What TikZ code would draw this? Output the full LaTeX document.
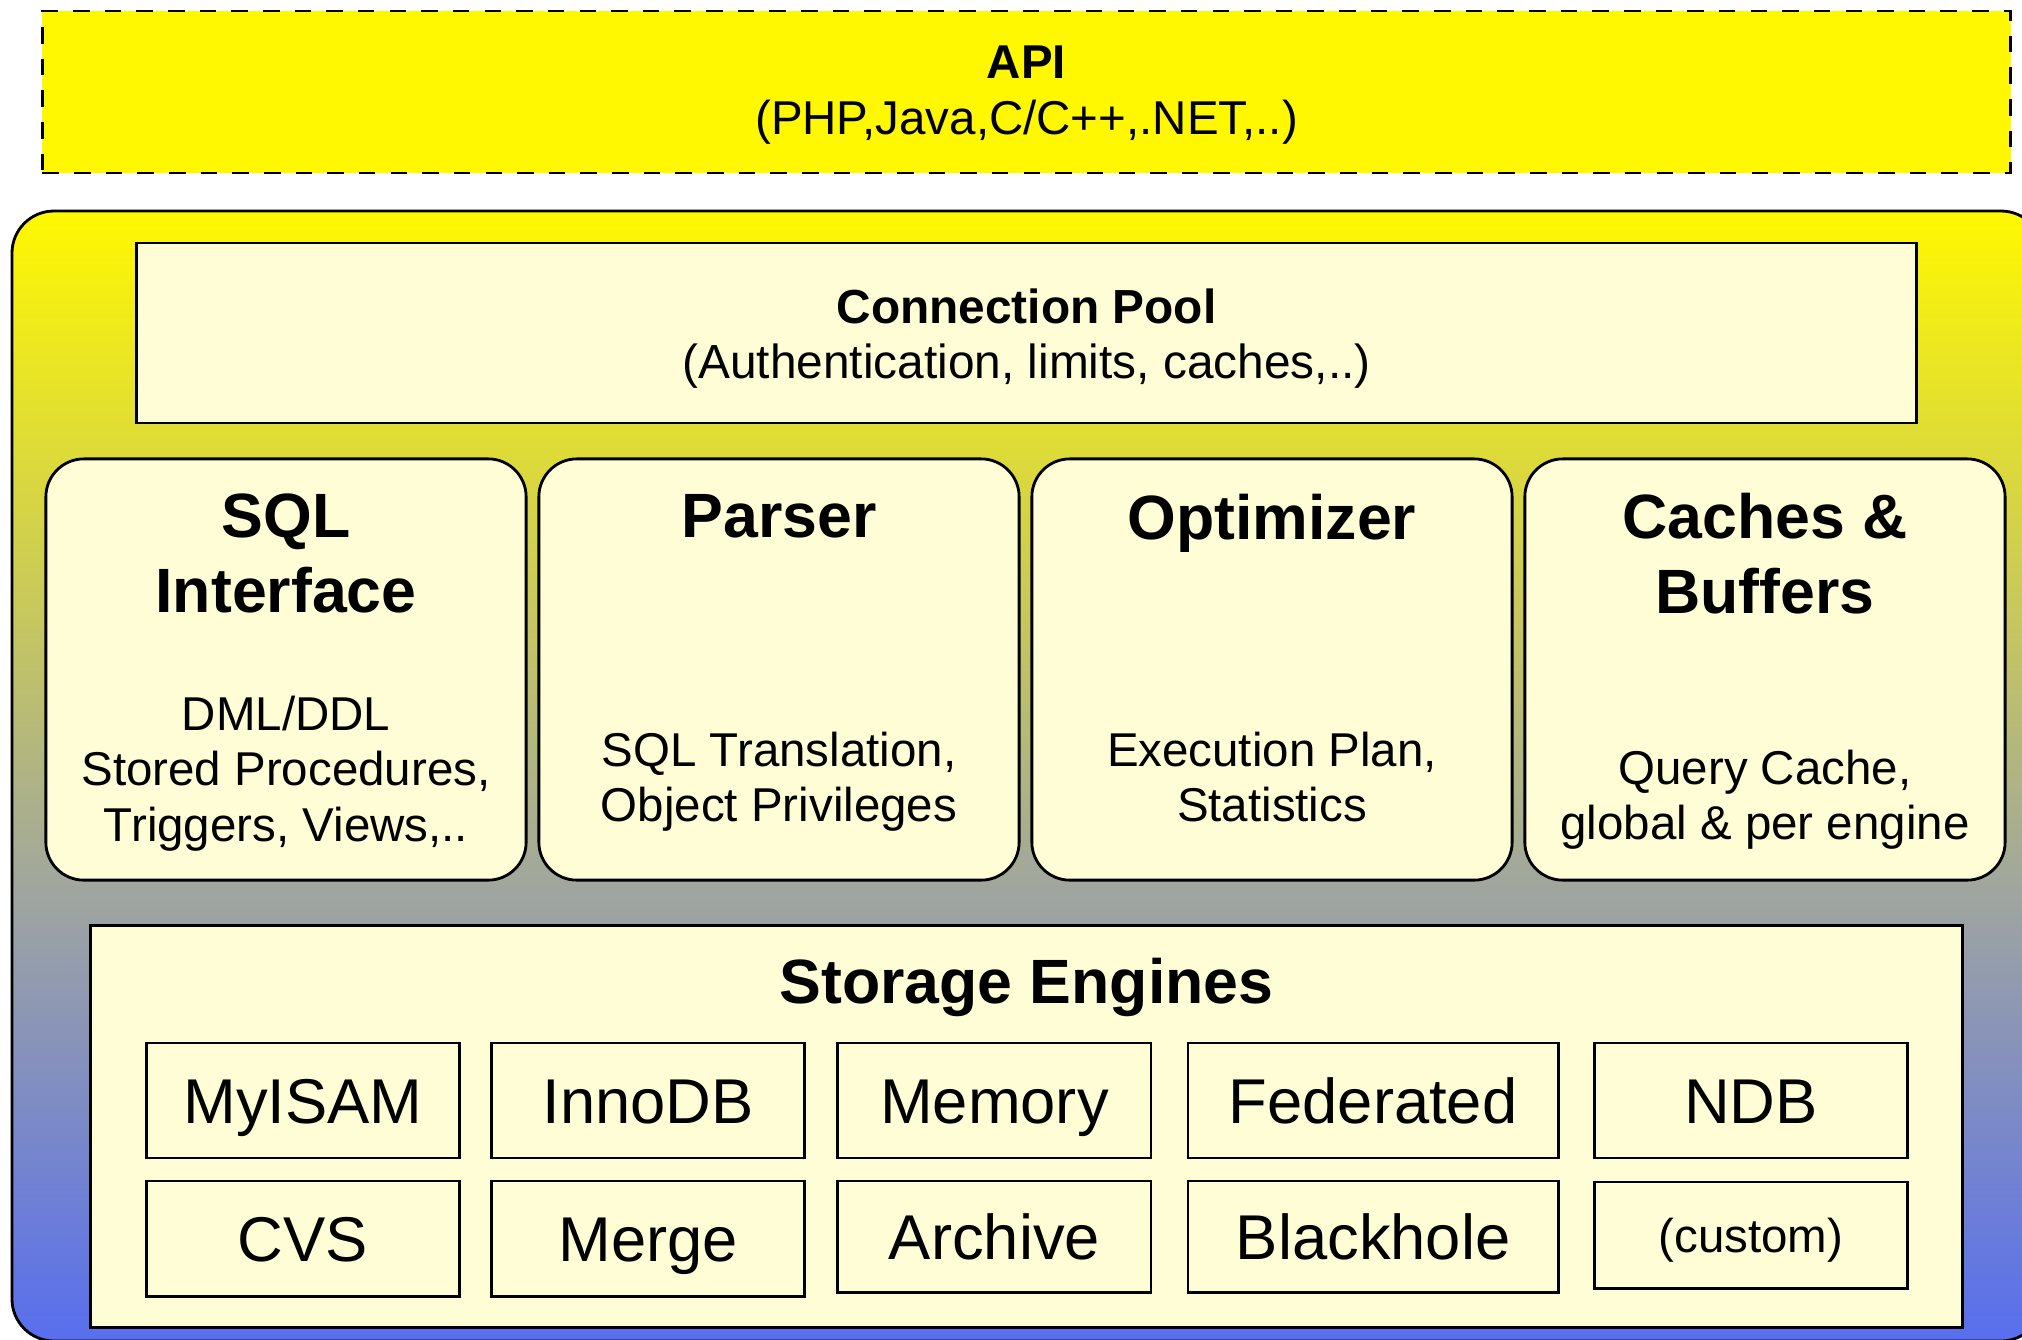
\documentclass[tikz,border=0pt]{standalone}
\usepackage{fontspec}
\setmainfont{Liberation Sans}
\usetikzlibrary{positioning}

\definecolor{paleyellow}{RGB}{255,253,214}
\definecolor{apiyellow}{RGB}{255,248,0}
\definecolor{frameyellow}{RGB}{255,248,0}
\definecolor{framegray}{RGB}{160,166,158}
\definecolor{frameblue}{RGB}{88,110,238}
\pgfdeclareverticalshading{serverfade}{100bp}{color(0bp)=(frameblue); color(25bp)=(frameblue); color(45bp)=(framegray); color(75bp)=(frameyellow); color(100bp)=(frameyellow)}

\begin{document}
\begin{tikzpicture}[x=0.01cm, y=-0.01cm,
  layer/.style={draw, line width=0.8pt, fill=paleyellow, align=center, inner sep=0pt, outer sep=0pt},
  module/.style={layer, rounded corners=0.38cm, minimum width=4.8cm, minimum height=4.21cm},
  engine/.style={layer, minimum width=3.13cm, minimum height=1.15cm, text height=12.9pt, text depth=0pt, font=\fontsize{18}{21}\selectfont},
  heading/.style={align=center, inner sep=0pt, font=\bfseries\fontsize{17.8}{21.3}\selectfont},
  detail/.style={align=center, inner sep=0pt, font=\fontsize{13.5}{15.8}\selectfont}]
\useasboundingbox (0,0) rectangle (2022,1339);
\clip (0,0) rectangle (2022,1339);

% server frame
\shadedraw[shading=serverfade, line width=0.8pt, rounded corners=0.42cm] (12,211) rectangle (2043,1341);

\node[layer, dash pattern=on 4.7pt off 4.3pt, fill=apiyellow, minimum width=19.67cm, minimum height=1.62cm, text height=26.7pt, font=\fontsize{13.5}{15.9}\selectfont] (api) at (1026.5,92) {\textbf{API}\\(PHP,Java,C/C++,.NET,..)};
\node[layer, minimum width=17.79cm, minimum height=1.8cm, text height=28.6pt, font=\fontsize{13.6}{15.6}\selectfont] (pool) at (1026.5,333) {\textbf{Connection Pool}\\(Authentication, limits, caches,..)};

\node[module] (sqlif) at (286,669.5) {};
\node[module, right=0.127cm of sqlif] (parser) {};
\node[module, right=0.127cm of parser] (optimizer) {};
\node[module, right=0.127cm of optimizer] (caches) {};

\node[heading, below=0.34cm of sqlif.north] (sqlT) {SQL\\Interface};
\node[detail, below=2.36cm of sqlif.north] (sqlD) {DML/DDL\\Stored Procedures,\\Triggers, Views,..};
\node[heading, below=0.35cm of parser.north] (parserT) {Parser};
\node[detail, below=2.72cm of parser.north] (parserD) {SQL Translation,\\Object Privileges};
\node[heading, below=0.35cm of optimizer.north] (optT) {Optimizer};
\node[detail, below=2.72cm of optimizer.north] (optD) {Execution Plan,\\Statistics};
\node[heading, below=0.34cm of caches.north] (cachesT) {Caches \&\\Buffers};
\node[detail, below=2.9cm of caches.north] (cachesD) {Query Cache,\\global \& per engine};

% storage engines
\node[layer, minimum width=18.71cm, minimum height=4.01cm] (storage) at (1026.5,1126.5) {};
\node[heading, below=0.32cm of storage.north] (storageT) {Storage Engines};

\node[engine] (myisam) at (303,1100.5) {MyISAM};
\node[engine, right=0.32cm of myisam] (innodb) {InnoDB};
\node[engine, right=0.33cm of innodb] (memory) {Memory};
\node[engine, right=0.37cm of memory, minimum width=3.7cm] (federated) {Federated};
\node[engine, right=0.36cm of federated] (ndb) {NDB};
\node[engine, below=0.23cm of myisam] (cvs) {CVS};
\node[engine, below=0.23cm of innodb] (merge) {Merge};
\node[engine, below=0.23cm of memory, minimum height=1.11cm] (archive) {Archive};
\node[engine, below=0.23cm of federated, minimum width=3.7cm, minimum height=1.11cm] (blackhole) {Blackhole};
\node[engine, below=0.24cm of ndb, minimum height=1.06cm, text height=9.7pt, font=\fontsize{13.5}{16}\selectfont] (custom) {(custom)};
\end{tikzpicture}
\end{document}
